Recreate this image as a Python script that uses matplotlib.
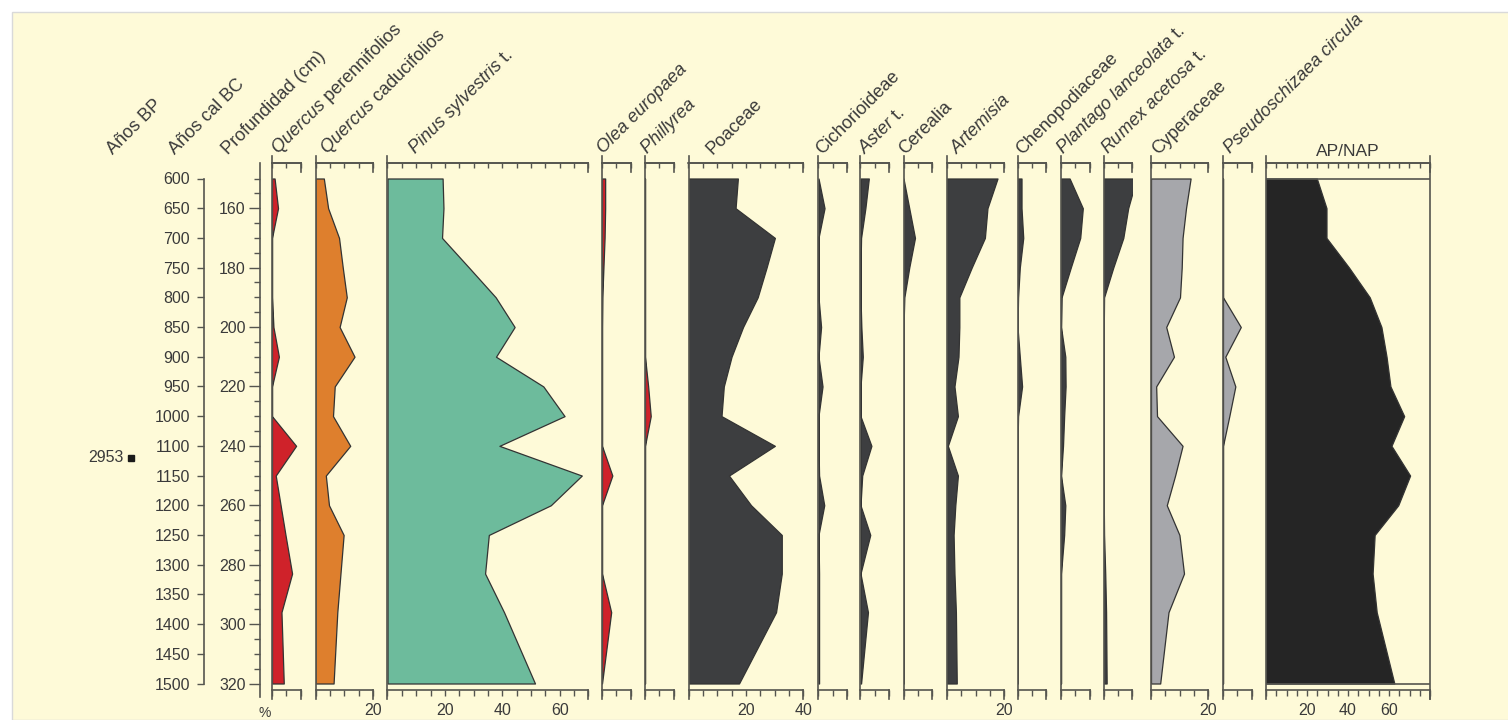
import matplotlib
matplotlib.use("Agg")
import numpy as np
import matplotlib.pyplot as plt
from matplotlib.patches import Rectangle
from matplotlib.transforms import blended_transform_factory

plt.rcParams['font.family'] = ['Liberation Sans', 'DejaVu Sans']
plt.rcParams['mathtext.fontset'] = 'custom'
plt.rcParams['mathtext.it'] = 'Liberation Sans:italic'
plt.rcParams['mathtext.rm'] = 'Liberation Sans'

# sample depths (cm)
depth = [150, 160, 170, 180, 190, 200, 210, 220, 230, 240, 250, 260, 270, 283, 296, 320]

# pollen percentages per sample
q_perennifolios = [0.9, 2.1, 0, 0, 0, 0.5, 2.4, 0, 0, 8.4, 1.3, 3.0, 4.7, 7.0, 3.3, 4.1]
q_caducifolios = [2.9, 4.4, 8.2, 9.5, 10.9, 8.4, 13.6, 6.7, 6.1, 12.1, 3.6, 4.7, 9.8, 8.7, 7.6, 6.3]
pinus = [19.2, 19.5, 19.0, 28.4, 37.7, 44.3, 37.8, 54.3, 61.7, 39.0, 67.7, 56.9, 35.3, 34.0, 40.6, 51.4]
olea = [1.1, 1.1, 0.9, 0.5, 0.1, 0, 0, 0, 0, 0, 3.6, 0, 0, 0, 3.2, 0]
phillyrea = [0, 0, 0, 0, 0, 0, 0, 1.1, 2.0, 0, 0, 0, 0, 0, 0, 0]
poaceae = [17.2, 16.4, 30.1, 27.2, 24.1, 19.0, 15.0, 12.3, 11.5, 30.1, 14.1, 21.8, 32.5, 32.5, 30.5, 17.6]
cichorioideae = [0, 2.1, 0, 0, 0, 0.9, 0, 1.4, 0, 0, 0.2, 2.0, 0, 0.2, 0.2, 0.2]
aster = [2.9, 1.7, 0.2, 0, 0, 0.3, 0.8, 0, 0, 3.8, 0.6, 0, 3.4, 0, 2.6, 0.2]
cerealia = [0, 2.0, 4.0, 2.0, 0.3, 0, 0, 0, 0, 0, 0, 0, 0, 0, 0, 0]
artemisia = [17.6, 14.1, 13.2, 8.6, 4.3, 4.3, 4.0, 2.6, 3.8, 0.3, 3.8, 2.9, 2.3, 2.6, 3.1, 3.4]
chenopodiaceae = [1.4, 1.4, 2.0, 0.8, 0.2, 0, 0.8, 1.6, 0.2, 0, 0, 0, 0, 0, 0, 0]
plantago = [3.0, 7.6, 6.7, 3.4, 0.2, 0, 1.5, 1.6, 1.1, 0.7, 0, 1.5, 1.1, 0, 0, 0]
rumex = [11.5, 8.6, 6.9, 3.4, 0.2, 0.1, 0.1, 0.1, 0.1, 0.1, 0.1, 0.1, 0.2, 0.6, 0.9, 1.1]
cyperaceae = [13.8, 12.2, 11.0, 10.7, 10.1, 5.3, 8.0, 1.8, 2.1, 11.0, 8.4, 5.5, 9.9, 11.5, 6.1, 3.2]
pseudoschizaea = [0, 0, 0, 0, 0, 6.2, 0.8, 4.3, 2.2, 0, 0, 0, 0, 0, 0, 0]
ap_nap = [24.8, 29.5, 29.5, 40.5, 50.6, 56.3, 58.8, 60.7, 67.4, 61.2, 70.3, 64.5, 53.0, 52.0, 54.0, 62.6]

# age scale (cal BC) at depth
age_labels = ['600', '650', '700', '750', '800', '850', '900', '950', '1000',
              '1100', '1150', '1200', '1250', '1300', '1350', '1400', '1450', '1500']
age_depths = [150, 160, 170, 180, 190, 200, 210, 220, 230,
              240, 250, 260, 270, 280, 290, 300, 310, 320]
bp_dates = ['2953']
bp_depths = [244]

RED = '#cf222a'
ORANGE = '#de7f2d'
GREEN = '#6dbb9c'
DARK = '#3d3e40'
LGREY = '#a6a7ab'
BLACK = '#252525'
CREAM = '#fefad8'
AXC = '#55554f'
TXT = '#3a3a3a'
EDGE = '#333333'

W, H = 1508, 720
PX_CM = (683.5 - 178.5) / (320 - 150)


def px2depth(py):
    return 150 + (py - 178.5) / PX_CM


fig = plt.figure(figsize=(W / 100, H / 100), dpi=100)
fig.patch.set_facecolor('white')
fig.patches.append(Rectangle((12 / W, 0), 1, 1 - 12 / H, transform=fig.transFigure,
                             facecolor=CREAM, edgecolor='#d9d9d9', lw=1, zorder=-10))


def add_ax(left, width, top, bottom):
    ax = fig.add_axes([left / W, 1 - bottom / H, width / W, (bottom - top) / H])
    ax.set_ylim(px2depth(bottom), px2depth(top))
    ax.patch.set_visible(False)
    return ax


# (values, colour, max %, left px, bottom tick labels)
panels = [
    (q_perennifolios, RED, 10, 272, []),
    (q_caducifolios, ORANGE, 20, 315.5, [20]),
    (pinus, GREEN, 70, 387.5, [20, 40, 60]),
    (olea, RED, 10, 602, []),
    (phillyrea, RED, 10, 645, []),
    (poaceae, DARK, 40, 688.5, [20, 40]),
    (cichorioideae, DARK, 10, 818.5, []),
    (aster, DARK, 10, 860.5, []),
    (cerealia, DARK, 10, 903.5, []),
    (artemisia, DARK, 20, 947, [20]),
    (chenopodiaceae, DARK, 10, 1017.5, []),
    (plantago, DARK, 10, 1061, []),
    (rumex, DARK, 10, 1103.5, []),
    (cyperaceae, LGREY, 20, 1151, [20]),
    (pseudoschizaea, LGREY, 10, 1223, []),
    (ap_nap, BLACK, 80, 1266, [20, 40, 60]),
]

for vals, color, xmax, left, blabels in panels:
    scale = 164 / 80 if xmax == 80 else 2.87
    ax = add_ax(left, xmax * scale, 163, 690)
    ax.set_xlim(0, xmax)
    ax.fill_betweenx(depth, 0, vals, facecolor=color, edgecolor=EDGE, lw=0.9, zorder=2)
    for s in ('left', 'right'):
        ax.spines[s].set_visible(False)
    for s in ('top', 'bottom'):
        ax.spines[s].set_color(AXC)
        ax.spines[s].set_linewidth(1.2)
    ax.set_yticks([])
    ticks = np.arange(0, xmax + 0.1, 5)
    ax.set_xticks(ticks)
    ax.set_xticklabels([str(int(t)) if int(t) in blabels else '' for t in ticks])
    ax.tick_params(axis='x', direction='out', length=4.5, width=1, color=AXC,
                   labelsize=11.5, labelcolor=TXT, pad=5)
    sec = ax.secondary_xaxis('top')
    sec.set_xticks(ticks)
    sec.tick_params(direction='in', length=3.5, width=1, color=AXC, labeltop=False)
    sec.spines['top'].set_color(AXC)
    sec.spines['top'].set_linewidth(1.2)
    # panel frame: left line and long end ticks
    ax.plot([0, 0], [px2depth(156), px2depth(699)], color=AXC, lw=1.2, clip_on=False)
    ax.plot([xmax, xmax], [px2depth(163), px2depth(172)], color=AXC, lw=1.2, clip_on=False)
    ax.plot([xmax, xmax], [px2depth(690), px2depth(699)], color=AXC, lw=1.2, clip_on=False)
    if xmax == 80:
        ax.plot([xmax, xmax], [px2depth(156), px2depth(699)], color=AXC, lw=1.2, clip_on=False)
        ax.axhline(150, color=AXC, lw=1.2, zorder=3)
        ax.axhline(320, color=AXC, lw=1.2, zorder=3)

# age axis (cal BC)
ax_age = add_ax(204, 1, 163, 697)
for s in ('top', 'right', 'bottom'):
    ax_age.spines[s].set_visible(False)
ax_age.spines['left'].set_bounds(150, 320)
ax_age.spines['left'].set_color(AXC)
ax_age.spines['left'].set_linewidth(1.2)
ax_age.set_xticks([])
ax_age.set_yticks(age_depths)
ax_age.set_yticklabels(age_labels)
ax_age.tick_params(axis='y', length=5, width=1, color=AXC, labelsize=11.5,
                   labelcolor=TXT, pad=5)

# years BP date
trans = blended_transform_factory(fig.transFigure, ax_age.transData)
for lab, d in zip(bp_dates, bp_depths):
    ax_age.text(124 / W, d, lab, transform=trans, ha='right', va='center',
                fontsize=11.5, color=TXT)
    ax_age.plot([131 / W], [d], marker='s', ms=5, color='#1a1a1a',
                transform=trans, clip_on=False)

# depth axis
ax_d = add_ax(259.5, 1, 163, 697)
for s in ('top', 'right', 'bottom'):
    ax_d.spines[s].set_visible(False)
ax_d.spines['left'].set_color(AXC)
ax_d.spines['left'].set_linewidth(1.2)
ax_d.set_xticks([])
ax_d.set_yticks(np.arange(160, 321, 20))
ax_d.set_yticks(np.arange(150, 321, 5), minor=True)
ax_d.tick_params(axis='y', which='major', length=8, width=1, color=AXC,
                 labelsize=11.5, labelcolor=TXT, pad=2)
ax_d.tick_params(axis='y', which='minor', length=4.5, width=1, color=AXC)

# headers
headers = [
    ('Años BP', 113),
    ('Años cal BC', 175),
    ('Profundidad (cm)', 228),
    (r'$\mathit{Quercus}$ perennifolios', 278),
    (r'$\mathit{Quercus}$ caducifolios', 327),
    (r'$\mathit{Pinus\ sylvestris}$ t.', 415),
    (r'$\mathit{Olea\ europaea}$', 603),
    (r'$\mathit{Phillyrea}$', 647),
    ('Poaceae', 713),
    ('Cichorioideae', 822),
    (r'$\mathit{Aster}$ t.', 865),
    ('Cerealia', 905),
    (r'$\mathit{Artemisia}$', 957),
    ('Chenopodiaceae', 1022),
    (r'$\mathit{Plantago\ lanceolata}$ t.', 1063),
    (r'$\mathit{Rumex\ acetosa}$ t.', 1108),
    ('Cyperaceae', 1158),
    (r'$\mathit{Pseudoschizaea\ circula}$', 1230),
]
for lab, x in headers:
    fig.text(x / W, 1 - 155 / H, lab, rotation=45, rotation_mode='anchor',
             ha='left', va='baseline', fontsize=13, color=TXT)
fig.text(1348 / W, 1 - 156 / H, 'AP/NAP', ha='center', va='baseline',
         fontsize=12.5, color=TXT)
fig.text(265 / W, 1 - 713 / H, '%', ha='center', va='center', fontsize=10, color=TXT)

fig.savefig('out.png', dpi=100)
